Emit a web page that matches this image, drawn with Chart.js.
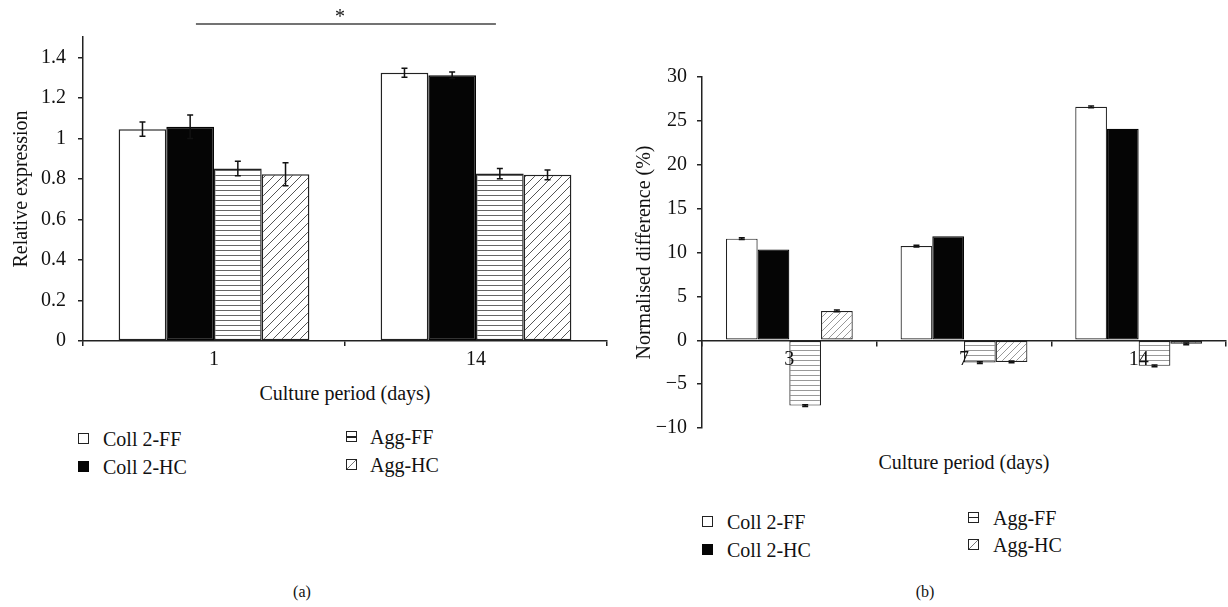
<!DOCTYPE html>
<html>
<head>
<meta charset="utf-8">
<script src="https://cdn.jsdelivr.net/npm/chart.js@4.4.0/dist/chart.umd.min.js"></script>
<style>
  body { margin: 0; background: #fff; font-family: "Liberation Serif", serif; color: #111; }
  #page { position: relative; width: 1228px; height: 607px; overflow: hidden; }
  .wrap { position: absolute; }
  .t { position: absolute; white-space: nowrap; font-size: 20px; line-height: 24px; }
  .sw { position: absolute; width: 11px; height: 11px; box-sizing: border-box; border: 1.5px solid #222; background: #fff; }
</style>
</head>
<body>
<div id="page">
  <div class="wrap" style="left:0;top:0;width:614px;height:380px"><canvas id="chartA"></canvas></div>
  <div class="wrap" style="left:614px;top:0;width:614px;height:450px"><canvas id="chartB"></canvas></div>
  <div class="t" style="left:345px;top:381px;transform:translateX(-50%)">Culture period (days)</div>
  <div class="t" style="left:964px;top:450px;transform:translateX(-50%)">Culture period (days)</div>
  <div class="t" style="left:302px;top:580px;font-size:16px;transform:translateX(-50%)">(a)</div>
  <div class="t" style="left:925px;top:580px;font-size:16px;transform:translateX(-50%)">(b)</div>
  <div id="legends"></div>
</div>
<script>
// ---- data ----
const seriesNames = ['Coll 2-FF', 'Coll 2-HC', 'Agg-FF', 'Agg-HC'];

// panel (a): relative expression
const daysA = ['1', '14'];
const collFF_A = [1.045, 1.324];
const collHC_A = [1.057, 1.311];
const aggFF_A = [0.851, 0.826];
const aggHC_A = [0.823, 0.820];
const collFF_A_err = [0.035, 0.022];
const collHC_A_err = [0.058, 0.016];
const aggFF_A_err = [0.036, 0.025];
const aggHC_A_err = [0.057, 0.024];
const yTicksA = [0, 0.2, 0.4, 0.6, 0.8, 1, 1.2, 1.4];

// panel (b): normalised difference (%)
const daysB = ['3', '7', '14'];
const collFF_B = [11.58, 10.74, 26.6];
const collHC_B = [10.33, 11.85, 24.1];
const aggFF_B = [-7.45, -2.54, -2.92];
const aggHC_B = [3.34, -2.47, -0.4];
const collFF_B_err = [0.1, 0.1, 0.1];
const collHC_B_err = [0, 0, 0];
const aggFF_B_err = [0.1, 0.1, 0.1];
const aggHC_B_err = [0.1, 0.1, 0.1];
const yTicksB = [-10, -5, 0, 5, 10, 15, 20, 25, 30];

// significance bar in (a): category index range and level
const sigFrom = -0.069, sigTo = 1.076, sigLevel = 1.564;

const FONT = '"Liberation Serif", serif';
const AXIS = '#222';

function hlines(gap, color) {
  const c = document.createElement('canvas');
  c.width = 8; c.height = gap;
  const g = c.getContext('2d');
  g.fillStyle = '#fff'; g.fillRect(0, 0, 8, gap);
  g.fillStyle = color; g.fillRect(0, 0, 8, 1);
  return g.createPattern(c, 'repeat');
}
function hatch(size, color, lw) {
  const c = document.createElement('canvas');
  c.width = size; c.height = size;
  const g = c.getContext('2d');
  g.fillStyle = '#fff'; g.fillRect(0, 0, size, size);
  g.strokeStyle = color; g.lineWidth = lw;
  g.beginPath();
  g.moveTo(0, size); g.lineTo(size, 0);
  g.moveTo(-2, 2); g.lineTo(2, -2);
  g.moveTo(size - 2, size + 2); g.lineTo(size + 2, size - 2);
  g.stroke();
  return g.createPattern(c, 'repeat');
}

const errorBars = {
  id: 'errorBars',
  afterDatasetsDraw(chart) {
    const ctx = chart.ctx, y = chart.scales.y;
    chart.data.datasets.forEach((ds, i) => {
      chart.getDatasetMeta(i).data.forEach((bar, j) => {
        const e = ds.errors[j];
        if (!e) return;
        const v = ds.data[j];
        const y1 = y.getPixelForValue(v + e), y2 = y.getPixelForValue(v - e);
        ctx.save();
        ctx.strokeStyle = '#111'; ctx.lineWidth = 1.5;
        ctx.beginPath();
        ctx.moveTo(bar.x, y1); ctx.lineTo(bar.x, y2);
        ctx.moveTo(bar.x - 3, y1); ctx.lineTo(bar.x + 3, y1);
        ctx.moveTo(bar.x - 3, y2); ctx.lineTo(bar.x + 3, y2);
        ctx.stroke();
        ctx.restore();
      });
    });
  }
};

const sigBar = {
  id: 'sigBar',
  afterDraw(chart) {
    const ctx = chart.ctx, x = chart.scales.x, y = chart.scales.y;
    const yy = y.getPixelForValue(sigLevel);
    const xa = x.getPixelForValue(sigFrom), xb = x.getPixelForValue(sigTo);
    ctx.save();
    ctx.strokeStyle = '#444'; ctx.lineWidth = 1.5;
    ctx.beginPath(); ctx.moveTo(xa, yy); ctx.lineTo(xb, yy); ctx.stroke();
    ctx.fillStyle = '#111'; ctx.font = '20px ' + FONT;
    ctx.textAlign = 'center'; ctx.textBaseline = 'alphabetic';
    ctx.fillText('*', (xa + xb) / 2 - 6, yy - 1);
    ctx.restore();
  }
};

function datasets(vals, errs, fills, bw) {
  return vals.map((v, i) => ({
    label: seriesNames[i],
    data: v,
    errors: errs[i],
    backgroundColor: fills[i],
    borderColor: i === 1 ? '#050505' : AXIS,
    borderWidth: bw,
    borderSkipped: false
  }));
}

function tickFmt(v) {
  const s = String(+v.toFixed(1));
  return s.replace('-', '\u2212');
}

// ---- chart (a) ----
new Chart(document.getElementById('chartA'), {
  type: 'bar',
  data: {
    labels: daysA,
    datasets: datasets(
      [collFF_A, collHC_A, aggFF_A, aggHC_A],
      [collFF_A_err, collHC_A_err, aggFF_A_err, aggHC_A_err],
      ['#fff', '#050505', hlines(5, '#666'), hatch(9, '#555', 1)], 1.5)
  },
  options: {
    responsive: true, maintainAspectRatio: false, animation: false,
    layout: { padding: { top: 37, right: 7, left: 0, bottom: 0 } },
    datasets: { bar: { categoryPercentage: 0.728, barPercentage: 1 } },
    plugins: { legend: { display: false }, tooltip: { enabled: false } },
    scales: {
      x: {
        afterFit(s) { s.height = 39; },
        grid: { drawOnChartArea: false, tickLength: 5, color: AXIS, lineWidth: 1.5 },
        border: { color: AXIS, width: 1.5 },
        ticks: { color: '#111', font: { family: FONT, size: 20 }, padding: 2 }
      },
      y: {
        min: 0, max: 1.5,
        afterFit(s) { s.width = 83; },
        afterBuildTicks(s) { s.ticks = yTicksA.map(v => ({ value: v })); },
        grid: { drawOnChartArea: false, tickLength: 5, color: AXIS, lineWidth: 1.5 },
        border: { color: AXIS, width: 1.5 },
        ticks: { color: '#111', font: { family: FONT, size: 20 }, padding: 12, callback: tickFmt },
        title: { display: true, text: 'Relative expression', color: '#111',
                 font: { family: FONT, size: 20 }, padding: { top: 10 } }
      }
    }
  },
  plugins: [errorBars, sigBar]
});

// ---- chart (b) ----
new Chart(document.getElementById('chartB'), {
  type: 'bar',
  data: {
    labels: daysB,
    datasets: datasets(
      [collFF_B, collHC_B, aggFF_B, aggHC_B],
      [collFF_B_err, collHC_B_err, aggFF_B_err, aggHC_B_err],
      ['#fff', '#050505', hlines(5, '#999'), hatch(7, '#999', 1)], 1.2)
  },
  options: {
    responsive: true, maintainAspectRatio: false, animation: false,
    layout: { padding: { top: 77, right: 2, left: 0, bottom: 12 } },
    datasets: { bar: { categoryPercentage: 0.726, barPercentage: 1 } },
    plugins: { legend: { display: false }, tooltip: { enabled: false } },
    scales: {
      x: {
        position: { y: 0 },
        grid: { drawOnChartArea: false, tickLength: 5, color: AXIS, lineWidth: 1.5, z: 1 },
        border: { color: AXIS, width: 1.5, z: 1 },
        ticks: { color: '#111', font: { family: FONT, size: 20 }, padding: 2, z: 1 }
      },
      y: {
        min: -10, max: 30,
        afterFit(s) { s.width = 88; },
        afterBuildTicks(s) { s.ticks = yTicksB.map(v => ({ value: v })); },
        grid: { drawOnChartArea: false, tickLength: 5, color: AXIS, lineWidth: 1.5 },
        border: { color: AXIS, width: 1.5 },
        ticks: { color: '#111', font: { family: FONT, size: 20 }, padding: 10, callback: tickFmt },
        title: { display: true, text: 'Normalised difference (%)', color: '#111',
                 font: { family: FONT, size: 20 }, padding: { top: 19 } }
      }
    }
  },
  plugins: [errorBars]
});

// ---- legends (html) ----
const swatchStyles = [
  'background:#fff',
  'background:#050505;border-color:#050505',
  'background:linear-gradient(#fff 0 4px,#222 4px 5.5px,#fff 5.5px)',
  'background:linear-gradient(135deg,#fff 0 46%,#777 46% 54%,#fff 54%)'
];
const legendSpots = [
  { x: 78, cols: [103, 370], box2: 346, rows: [[439, 467], [437, 465]] },
  { x: 702, cols: [727, 993], box2: 968, rows: [[522, 550], [518, 545]] }
];
const lg = document.getElementById('legends');
legendSpots.forEach(sp => {
  seriesNames.forEach((name, i) => {
    const col = i < 2 ? 0 : 1;
    const cy = sp.rows[col][i % 2];
    const bx = col === 0 ? sp.x : sp.box2;
    const sw = document.createElement('div');
    sw.className = 'sw';
    sw.style.cssText = `left:${bx}px;top:${cy - 6}px;` + swatchStyles[i];
    lg.appendChild(sw);
    const t = document.createElement('div');
    t.className = 't';
    t.style.left = sp.cols[col] + 'px';
    t.style.top = (cy - 12) + 'px';
    t.textContent = name;
    lg.appendChild(t);
  });
});
</script>
</body>
</html>
